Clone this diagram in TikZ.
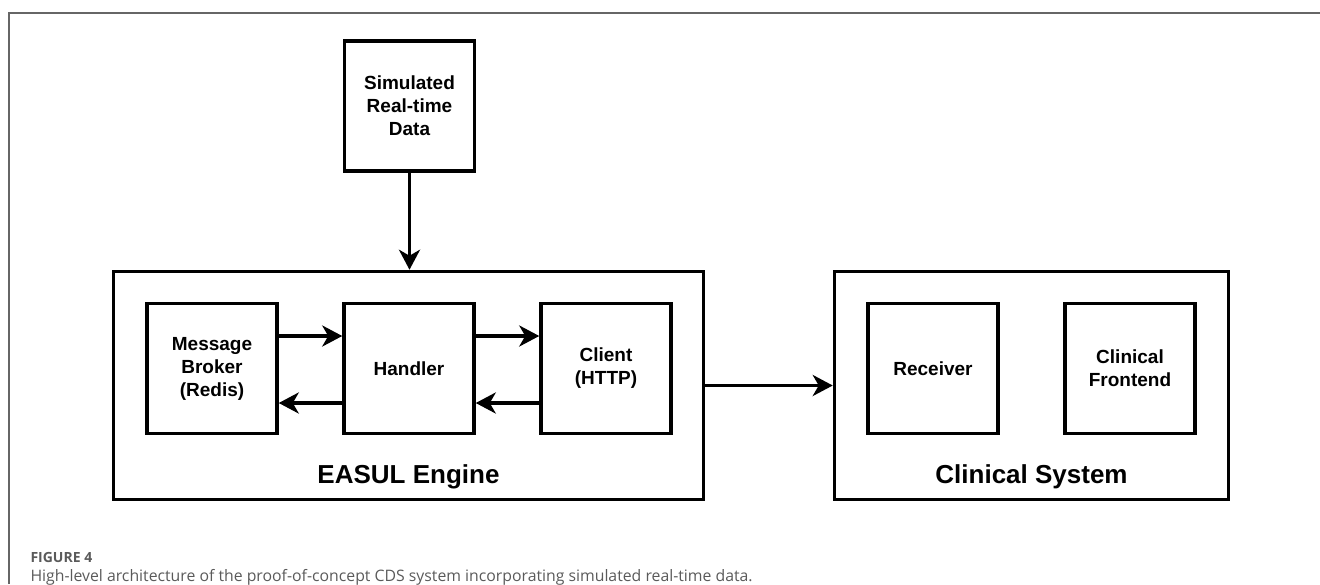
\documentclass[tikz,border=0pt]{standalone}
\usepackage{fontspec}
\setmainfont{Liberation Sans}
\newfontfamily\captionfont{Open Sans}
\usetikzlibrary{arrows.meta}
\definecolor{framegray}{HTML}{666666}
\definecolor{captiongray}{HTML}{5A5A5A}

\begin{document}
\begin{tikzpicture}[x=1pt,y=-1pt,
        block/.style={draw,line width=3.5pt,minimum width=130pt,minimum height=130pt,align=center,inner sep=0pt,font=\bfseries\fontsize{19}{23}\selectfont},
        container/.style={draw,line width=3.5pt,minimum height=228pt,inner sep=0pt},
        boxtitle/.style={anchor=base,font=\bfseries\fontsize{26}{30}\selectfont},
        flow/.style={line width=3.5pt,-{Stealth[length=20pt,width=21pt,inset=6pt]}},
        node distance=197pt]
    \useasboundingbox (0,0) rectangle (1320,584);
    % figure frame
    \draw[framegray,line width=1.5pt] (9,584) -- (9,13) -- (1320,13);

    \node[block] (sim) at (409.5,106) {Simulated\\Real-time\\Data};

    \node[container,minimum width=590pt] (engine) at (408.5,385.5) {};
    \node[boxtitle] (enginetitle) at (408.5,483) {EASUL Engine};
    \node[block] (handler) at (409,368.5) {Handler};
    \node[block,left of=handler] (broker) {Message\\Broker\\(Redis)};
    \node[block,right of=handler] (client) {Client\\(HTTP)};

    \node[container,minimum width=394pt] (clinical) at (1031.5,385.5) {};
    \node[boxtitle] (clinicaltitle) at (1031.5,483) {Clinical System};
    \node[block] (receiver) at (933,368.5) {Receiver};
    \node[block,right of=receiver] (frontend) {Clinical\\Frontend};

    \draw[flow] (sim.south) -- (sim.south |- engine.north);
    \draw[flow] ([yshift=32.5pt]broker.east) -- ([yshift=32.5pt]handler.west);
    \draw[flow] ([yshift=32.5pt]handler.east) -- ([yshift=32.5pt]client.west);
    \draw[flow] ([yshift=-34.5pt]handler.west) -- ([yshift=-34.5pt]broker.east);
    \draw[flow] ([yshift=-34.5pt]client.west) -- ([yshift=-34.5pt]handler.east);
    \draw[flow] (engine.east) -- (clinical.west);

    % caption
    \node[anchor=base west,text=captiongray,font=\captionfont\bfseries\fontsize{14}{16}\selectfont] (fignum) at (27,562) {FIGURE 4};
    \node[anchor=base west,text=captiongray,font=\captionfont\fontsize{15.8}{18}\selectfont] (figcaption) at (27,581) {High-level architecture of the proof-of-concept CDS system incorporating simulated real-time data.};
\end{tikzpicture}
\end{document}
